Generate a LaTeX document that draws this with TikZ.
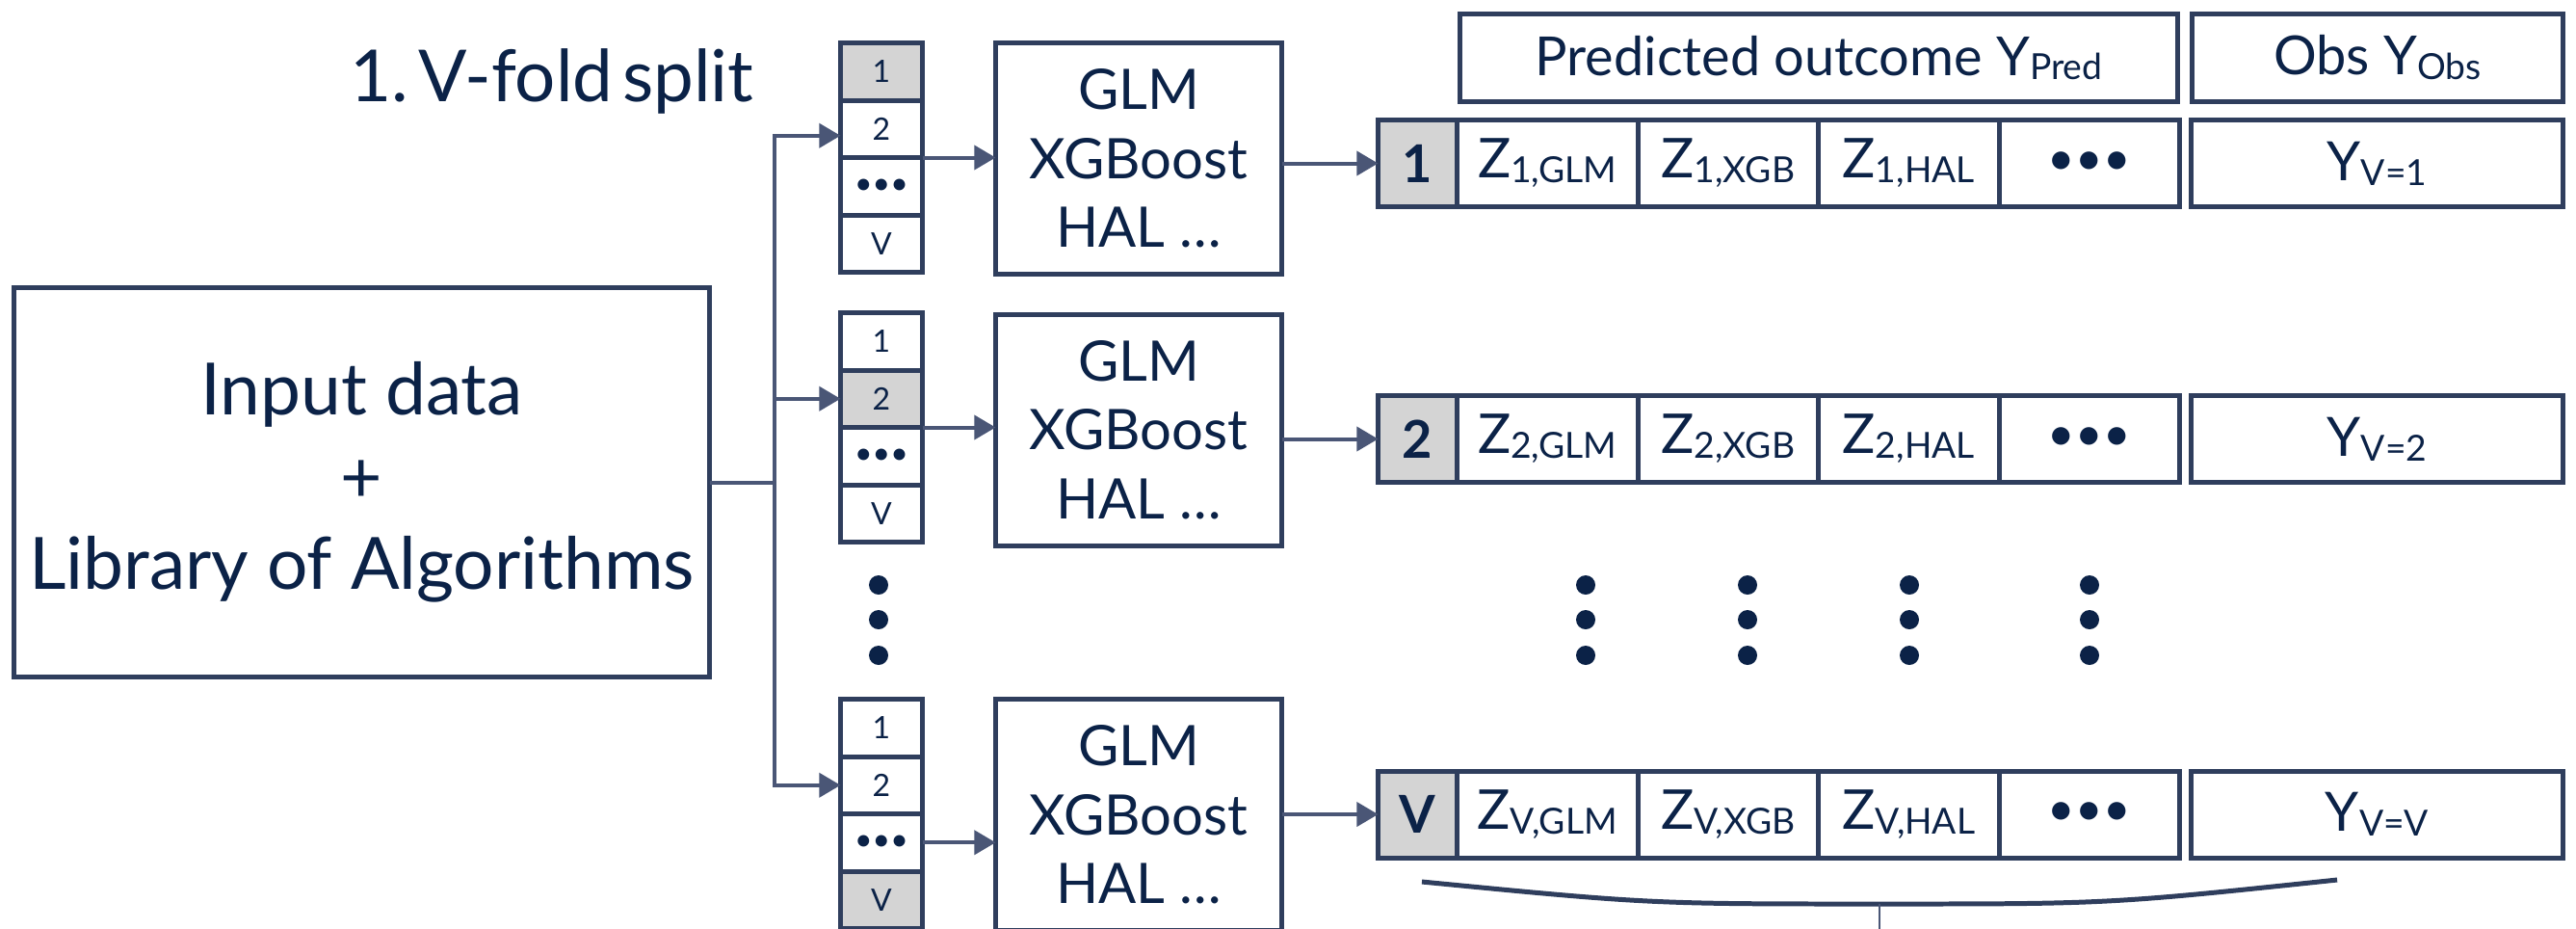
\documentclass[tikz,border=0pt]{standalone}
\usepackage{fontspec}
\setmainfont{Lato}
\usepackage{tikz}
\usetikzlibrary{positioning, arrows.meta}

\definecolor{boxline}{HTML}{2F3E5D}
\definecolor{arrowcol}{HTML}{4A5676}
\definecolor{txtcol}{HTML}{0B2247}
\definecolor{cellgray}{HTML}{D4D4D4}

\newcommand{\lowsub}[1]{\raisebox{-1.4pt}{\fontsize{10.6}{12}\selectfont #1}}

\begin{document}
\begin{tikzpicture}[
  box/.style={draw=boxline, line width=1.42pt, fill=white, text=txtcol, align=center, inner sep=0pt, outer sep=0pt},
  fold/.style={box, minimum width=0.85cm, minimum height=0.595cm, font=\fontsize{9.1}{11}\selectfont},
  foldsel/.style={fold, fill=cellgray},
  model/.style={box, minimum width=2.97cm, minimum height=2.40cm, font=\fontsize{16.5}{20.3}\selectfont},
  numcell/.style={box, fill=cellgray, minimum width=0.82cm, minimum height=0.90cm, font=\fontsize{15.4}{18}\selectfont\bfseries},
  zcell/.style={box, minimum width=1.875cm, minimum height=0.90cm, font=\fontsize{16.2}{19}\selectfont},
  dotcell/.style={zcell, font=\fontsize{14}{17}\selectfont},
  ycell/.style={box, minimum width=3.86cm, minimum height=0.90cm, font=\fontsize{16}{19}\selectfont},
  head/.style={box, minimum height=0.91cm, font=\fontsize{15.9}{19}\selectfont},
  conn/.style={draw=arrowcol, line width=1.14pt},
  arr/.style={conn, -{Triangle[length=6.3pt,width=7.1pt]}}
]
  \clip (0,0) rectangle (26.74,-9.63);

  % Title and input
  \node[text=txtcol, font=\fontsize{21.2}{26}\selectfont, anchor=base] (title) at (5.73,-1.05) {1.\hspace{0.13em}V-fold\hspace{0.13em}split};
  \node[box, minimum width=7.22cm, minimum height=4.04cm, font=\fontsize{21.3}{25.7}\selectfont] (input) at (3.755,-5.005) {Input data\\+\\Library of Algorithms};

  % Fold columns
  \node[foldsel] (f1a) at (9.15,-0.7425) {1};
  \node[fold, below=0pt of f1a] (f1b) {2};
  \node[fold, below=0pt of f1b] (f1c) {•••};
  \node[fold, below=0pt of f1c] (f1d) {V};

  \node[fold] (f2a) at (9.15,-3.5425) {1};
  \node[foldsel, below=0pt of f2a] (f2b) {2};
  \node[fold, below=0pt of f2b] (f2c) {•••};
  \node[fold, below=0pt of f2c] (f2d) {V};

  \node[fold] (f3a) at (9.15,-7.5525) {1};
  \node[fold, below=0pt of f3a] (f3b) {2};
  \node[fold, below=0pt of f3b] (f3c) {•••};
  \node[foldsel, below=0pt of f3c] (f3d) {V};

  % Learners
  \node[model] (m1) at (11.82,-1.645) {GLM\\XGBoost\\HAL …};
  \node[model] (m2) at (11.82,-4.46) {GLM\\XGBoost\\HAL …};
  \node[model] (m3) at (11.82,-8.455) {GLM\\XGBoost\\HAL …};

  % Header
  \node[head, minimum width=7.45cm] (pred) at (18.88,-0.60) {Predicted outcome Y\lowsub{Pred}};
  \node[head, minimum width=3.85cm] (obs) at (24.68,-0.60) {Obs Y\lowsub{Obs}};

  % Row 1
  \node[numcell] (r1) at (14.715,-1.695) {1};
  \node[zcell, right=0pt of r1] (r1glm) {Z\lowsub{1,GLM}};
  \node[zcell, right=0pt of r1glm] (r1xgb) {Z\lowsub{1,XGB}};
  \node[zcell, right=0pt of r1xgb] (r1hal) {Z\lowsub{1,HAL}};
  \node[dotcell, right=0pt of r1hal] (r1dots) {•••};
  \node[ycell] (r1y) at (24.675,-1.695) {Y\lowsub{V=1}};

  % Row 2
  \node[numcell] (r2) at (14.715,-4.555) {2};
  \node[zcell, right=0pt of r2] (r2glm) {Z\lowsub{2,GLM}};
  \node[zcell, right=0pt of r2glm] (r2xgb) {Z\lowsub{2,XGB}};
  \node[zcell, right=0pt of r2xgb] (r2hal) {Z\lowsub{2,HAL}};
  \node[dotcell, right=0pt of r2hal] (r2dots) {•••};
  \node[ycell] (r2y) at (24.675,-4.555) {Y\lowsub{V=2}};

  % Row V
  \node[numcell] (rv) at (14.715,-8.45) {V};
  \node[zcell, right=0pt of rv] (rvglm) {Z\lowsub{V,GLM}};
  \node[zcell, right=0pt of rvglm] (rvxgb) {Z\lowsub{V,XGB}};
  \node[zcell, right=0pt of rvxgb] (rvhal) {Z\lowsub{V,HAL}};
  \node[dotcell, right=0pt of rvhal] (rvdots) {•••};
  \node[ycell] (rvy) at (24.675,-8.45) {Y\lowsub{V=V}};

  % Vertical dots
  \foreach \x in {9.12, 16.46, 18.14, 19.82, 21.69}
    \foreach \y in {-6.07, -6.43, -6.80}
      \fill[txtcol] (\x,\y) circle (0.1);

  % Split connector
  \coordinate (spine) at (8.04,-5.005);
  \draw[conn] (input.east) -- (spine);
  \draw[arr] (spine) |- ([yshift=-0.07cm]f1b.west);
  \draw[arr] (spine) |- (f2b.west);
  \draw[arr] (spine) |- (f3b.west);

  % Folds to learners
  \draw[arr] (f1b.south east) -- (f1b.south east -| m1.west);
  \draw[arr] (f2b.south east) -- (f2b.south east -| m2.west);
  \draw[arr] (f3c.east) -- (f3c.east -| m3.west);

  % Learners to predictions
  \draw[arr] (m1.east |- r1.west) -- (r1.west);
  \draw[arr] (m2.east |- r2.west) -- (r2.west);
  \draw[arr] (m3.east |- rv.west) -- (rv.west);

  % Brace
  \coordinate (bl) at (14.76,-9.15);
  \coordinate (bm) at (19.51,-9.38);
  \coordinate (br) at (24.26,-9.13);
  \coordinate (stem) at (19.51,-9.9);
  \draw[draw=boxline, line width=1.42pt] (bl) .. controls (17.13,-9.38) .. (bm) .. controls (21.89,-9.38) .. (br);
  \draw[conn, line width=0.8pt] (bm) -- (stem);
\end{tikzpicture}
\end{document}
